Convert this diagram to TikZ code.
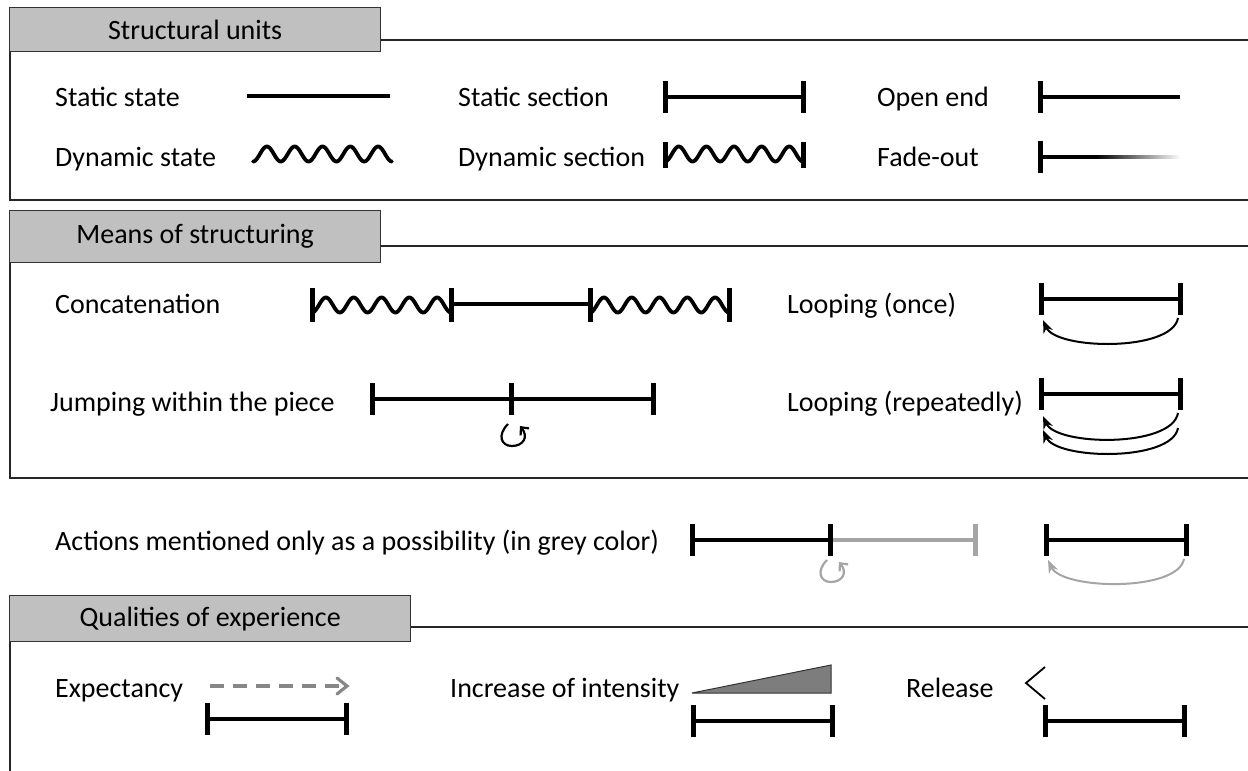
\documentclass[tikz,border=0pt]{standalone}
\usepackage{fontspec}
\setmainfont{Carlito}
\usetikzlibrary{arrows.meta}
\definecolor{tabgrey}{RGB}{192,192,192}
\definecolor{possgrey}{RGB}{165,165,165}
\definecolor{trigrey}{RGB}{125,125,125}
\definecolor{dashgrey}{RGB}{135,135,135}
\newcommand\segbar[4][black]{%
  \draw[seg,#1] (#2,#4) -- (#3,#4);
  \draw[tick,#1] (#2,#4-16) -- (#2,#4+16);
  \draw[tick,#1] (#3,#4-16) -- (#3,#4+16);}
\newcommand\wavy[3]{%
  \draw[wav] plot[domain=0:1,samples=160,smooth] ({#1+(#2-#1)*\x},{#3+7.5*cos(1800*\x)});}
\newcommand\jumpsym[3][black]{%
  \draw[#1,line width=2.2pt,-{Straight Barb[length=6pt,width=11pt]}]
    (#2-5,#3-11) .. controls (#2-16,#3) and (#2-12,#3+11) .. (#2-1,#3+11)
    .. controls (#2+10,#3+11) and (#2+16,#3+2) .. (#2+7,#3-9);}
\begin{document}
\begin{tikzpicture}[x=1pt,y=-1pt,
  frame/.style={line width=1.3pt,draw=black!85},
  tabbox/.style={draw=black!80,line width=1.3pt,fill=tabgrey,anchor=north west,
     font=\fontsize{28}{32}\selectfont,inner sep=0pt},
  lbl/.style={anchor=base west,font=\fontsize{28}{32}\selectfont,inner sep=0pt},
  seg/.style={line width=4pt},
  tick/.style={line width=5pt},
  wav/.style={line width=3.8pt,line join=round,line cap=round},
  loop/.style={line width=2pt,-{Stealth[length=13pt,width=10pt]}}]
\useasboundingbox (0,0) rectangle (1248,771);

% ---------- Box 1: Structural units
\draw[frame] (10,50) -- (10,200) -- (1248,200);
\draw[frame] (380,40) -- (1248,40);
\node[tabbox,minimum width=371pt,minimum height=44pt] (t1) at (9,7) {Structural units};

\node[lbl] (l1) at (55,106) {Static state};
\draw[seg] (247,96) -- (390,96);
\node[lbl] (l2) at (458,106) {Static section};
\segbar{665}{803}{97}
\node[lbl] (l3) at (877,106) {Open end};
\draw[tick] (1040,81) -- (1040,113);
\draw[seg] (1040,97) -- (1180,97);

\node[lbl] (l4) at (55,166) {Dynamic state};
\wavy{253}{392}{154}
\node[lbl] (l5) at (458,166) {Dynamic section};
\wavy{665}{803}{154}
\draw[tick] (665,142) -- (665,168);
\draw[tick] (803,142) -- (803,168);
\node[lbl] (l6) at (877,166) {Fade-out};
\draw[tick] (1040,141) -- (1040,173);
\draw[seg] (1040,157) -- (1097,157);
\foreach \i in {0,...,39}{
  \pgfmathsetmacro\shadeval{100-2.5*\i}
  \draw[seg,black!\shadeval] (1096+2.1*\i,157) -- (1098.4+2.1*\i,157);}

% ---------- Box 2: Means of structuring
\draw[frame] (10,262) -- (10,478) -- (1248,478);
\draw[frame] (380,246) -- (1248,246);
\node[tabbox,minimum width=371pt,minimum height=52pt] (t2) at (9,210) {Means of structuring};

\node[lbl] (l7) at (55,313) {Concatenation};
\wavy{312}{451}{305}
\draw[seg] (451,304) -- (590,304);
\wavy{590}{729}{305}
\foreach \bx in {312,451,590,729} \draw[tick] (\bx,288) -- (\bx,322);

\node[lbl] (l8) at (787,313) {Looping (once)};
\segbar{1041}{1180}{299}
\draw[loop] (1178,318) .. controls (1172,352) and (1056,350) .. (1043,320);

\node[lbl] (l9) at (50,411) {Jumping within the piece};
\segbar{372}{653}{399}
\draw[tick] (511,383) -- (511,415);
\jumpsym{513}{435}

\node[lbl] (l10) at (787,411) {Looping (repeatedly)};
\segbar{1041}{1180}{394}
\draw[loop] (1178,413) .. controls (1172,448) and (1056,446) .. (1043,416);
\draw[loop] (1178,428) .. controls (1172,462) and (1056,460) .. (1043,430);

% ---------- Possibility row
\node[lbl] (l11) at (55,550) {Actions mentioned only as a possibility (in grey color)};
\draw[seg,possgrey] (830,540) -- (975,540);
\draw[tick,possgrey] (975,524) -- (975,556);
\segbar{692}{830}{540}
\jumpsym[possgrey]{832}{571}
\segbar{1046}{1186}{540}
\draw[loop,possgrey] (1184,559) .. controls (1178,592) and (1062,590) .. (1048,560);

% ---------- Box 3: Qualities of experience
\draw[frame] (10,641) -- (10,771);
\draw[frame] (410,627) -- (1248,627);
\node[tabbox,minimum width=401pt,minimum height=46pt] (t3) at (9,595) {Qualities of experience};

\node[lbl] (l12) at (55,697) {Expectancy};
\draw[line width=3.5pt,dashgrey,dash pattern=on 14pt off 9pt] (210,686) -- (340,686);
\draw[line width=3.2pt,dashgrey,line cap=round,line join=miter] (337,678) -- (347,686) -- (337,694);
\segbar{207}{346}{719}

\node[lbl] (l13) at (450,697) {Increase of intensity};
\draw[fill=trigrey,draw=black!80,line width=1pt] (692,693) -- (831,665) -- (831,693) -- cycle;
\segbar{693}{832}{721}

\node[lbl] (l14) at (906,697) {Release};
\draw[line width=1.8pt] (1045,667) -- (1026,683) -- (1045,699);
\segbar{1045}{1184}{721}
\end{tikzpicture}
\end{document}
